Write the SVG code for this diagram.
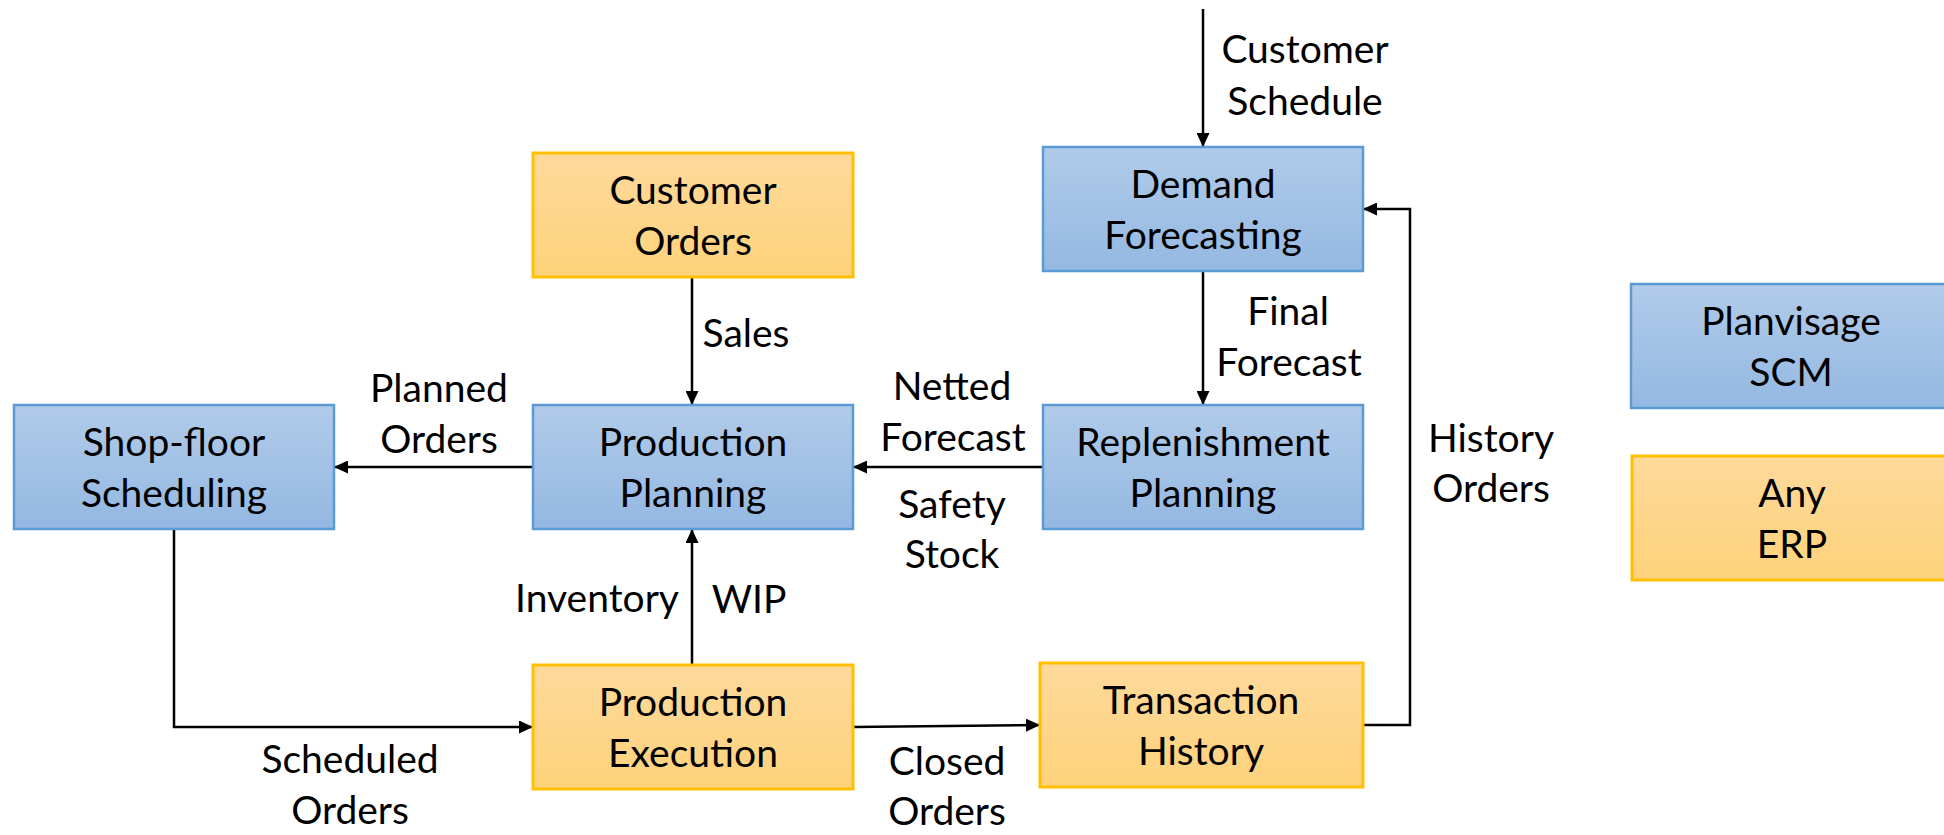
<svg xmlns="http://www.w3.org/2000/svg" width="1944" height="835" viewBox="0 0 1944 835">
<defs>
<linearGradient id="gBlue" x1="0" y1="0" x2="0" y2="1">
<stop offset="0" stop-color="#b1cbe9"/>
<stop offset="1" stop-color="#94b8e2"/>
</linearGradient>
<linearGradient id="gOrange" x1="0" y1="0" x2="0" y2="1">
<stop offset="0" stop-color="#fed99b"/>
<stop offset="1" stop-color="#fed27b"/>
</linearGradient>
<marker id="arr" viewBox="0 0 14 13" refX="14" refY="6.5" markerWidth="14" markerHeight="13" markerUnits="userSpaceOnUse" orient="auto">
<path d="M0,0 L14,6.5 L0,13 Z" fill="#000"/>
</marker>
<style>
.blue{fill:url(#gBlue);stroke:#5b9bd5;stroke-width:2.5}
.orange{fill:url(#gOrange);stroke:#ffc000;stroke-width:3}
text{font-family:Lato,"Open Sans","DejaVu Sans",sans-serif;font-size:39px;fill:#000;text-anchor:middle}
.conn path{fill:none;stroke:#000;stroke-width:2.5;marker-end:url(#arr)}
</style>
</defs>
<rect width="1944" height="835" fill="#fff"/>
<g id="connectors" class="conn">
<path d="M1203,9 L1203,147"/>
<path d="M1203,272 L1203,405"/>
<path d="M692,277 L692,405"/>
<path d="M1043,467 L853,467"/>
<path d="M533,467 L334,467"/>
<path d="M174,529 L174,727 L533,727"/>
<path d="M692,665 L692,529"/>
<path d="M853,727 L1040,725"/>
<path d="M1363,725 L1410,725 L1410,209 L1363,209"/>
</g>
<g id="labels">
<text x="1305" y="63">Customer</text>
<text x="1305" y="115">Schedule</text>
<text x="746" y="347">Sales</text>
<text x="1288" y="325">Final</text>
<text x="1289" y="376">Forecast</text>
<text x="952" y="400">Netted</text>
<text x="953" y="451">Forecast</text>
<text x="952" y="518">Safety</text>
<text x="952" y="568">Stock</text>
<text x="439" y="402">Planned</text>
<text x="439" y="453">Orders</text>
<text x="597" y="612">Inventory</text>
<text x="749" y="613">WIP</text>
<text x="350" y="773">Scheduled</text>
<text x="350" y="824">Orders</text>
<text x="947" y="775">Closed</text>
<text x="947" y="825">Orders</text>
<text x="1491" y="452">History</text>
<text x="1491" y="502">Orders</text>
</g>
<g id="customer-orders">
<rect class="orange" x="533" y="153" width="320" height="124"/>
<text x="693" y="204">Customer</text>
<text x="693" y="255">Orders</text>
</g>
<g id="demand-forecasting">
<rect class="blue" x="1043" y="147" width="320" height="124"/>
<text x="1203" y="198">Demand</text>
<text x="1203" y="249">Forecasting</text>
</g>
<g id="shop-floor-scheduling">
<rect class="blue" x="14" y="405" width="320" height="124"/>
<text x="174" y="456">Shop-floor</text>
<text x="174" y="507">Scheduling</text>
</g>
<g id="production-planning">
<rect class="blue" x="533" y="405" width="320" height="124"/>
<text x="693" y="456">Production</text>
<text x="693" y="507">Planning</text>
</g>
<g id="replenishment-planning">
<rect class="blue" x="1043" y="405" width="320" height="124"/>
<text x="1203" y="456">Replenishment</text>
<text x="1203" y="507">Planning</text>
</g>
<g id="production-execution">
<rect class="orange" x="533" y="665" width="320" height="124"/>
<text x="693" y="716">Production</text>
<text x="693" y="767">Execution</text>
</g>
<g id="transaction-history">
<rect class="orange" x="1040" y="663" width="323" height="124"/>
<text x="1201" y="714">Transaction</text>
<text x="1201" y="765">History</text>
</g>
<g id="legend-planvisage">
<rect class="blue" x="1631" y="284" width="320" height="124"/>
<text x="1791" y="335">Planvisage</text>
<text x="1791" y="386">SCM</text>
</g>
<g id="legend-erp">
<rect class="orange" x="1632" y="456" width="320" height="124"/>
<text x="1792" y="507">Any</text>
<text x="1792" y="558">ERP</text>
</g>
</svg>
